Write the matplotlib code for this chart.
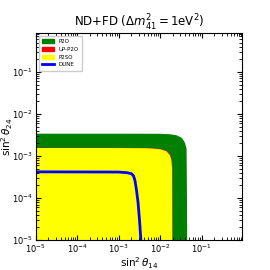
import matplotlib
matplotlib.use("Agg")
import matplotlib.pyplot as plt
from matplotlib.patches import Patch
from matplotlib.lines import Line2D

# contour boundaries (sin^2 theta14, sin^2 theta24)
p2o_x = [1e-5, 1e-3, 1e-2, 1.7e-2, 2.5e-2, 3.3e-2, 3.9e-2, 4.3e-2, 4.4e-2, 4.45e-2]
p2o_y = [3.4e-3, 3.4e-3, 3.38e-3, 3.3e-3, 3.1e-3, 2.7e-3, 2.1e-3, 1.5e-3, 1e-4, 1e-5]

up_p2o_x = [1e-5, 1e-3, 5e-3, 1e-2, 1.45e-2, 1.75e-2, 1.9e-2, 1.95e-2, 1.96e-2]
up_p2o_y = [1.57e-3, 1.57e-3, 1.55e-3, 1.48e-3, 1.33e-3, 1.08e-3, 8e-4, 5e-4, 1e-5]

p2so_x = [1e-5, 1e-3, 5e-3, 1e-2, 1.4e-2, 1.7e-2, 1.85e-2, 1.93e-2, 1.95e-2]
p2so_y = [1.55e-3, 1.55e-3, 1.53e-3, 1.45e-3, 1.3e-3, 1.05e-3, 8e-4, 5e-4, 1e-5]

dune_x = [1e-5, 1e-3, 1.6e-3, 2.0e-3, 2.25e-3, 2.45e-3, 2.65e-3, 2.9e-3, 3.15e-3, 3.4e-3]
dune_y = [4.2e-4, 4.15e-4, 4.0e-4, 3.8e-4, 3.4e-4, 2.6e-4, 1.6e-4, 8e-5, 3e-5, 1e-5]

labels = ["P2O", "UP-P2O", "P2SO", "DUNE"]
colors = ["green", "red", "yellow", "blue"]

fig = plt.figure(figsize=(2.7, 2.7), dpi=100)
ax = fig.add_axes([0.133, 0.111, 0.763, 0.767])

for xs, ys, c in [(p2o_x, p2o_y, colors[0]), (up_p2o_x, up_p2o_y, colors[1]), (p2so_x, p2so_y, colors[2])]:
    ax.fill([1e-5] + xs, [1e-5] + ys, color=c, lw=0)
ax.plot(dune_x, dune_y, color=colors[3], lw=2)

ax.set_xscale("log")
ax.set_yscale("log")
ax.set_xlim(1e-5, 0.93)
ax.set_ylim(1e-5, 0.85)
ax.tick_params(which="both", direction="in", top=True, right=True, labelsize=6, pad=2)
ax.tick_params(which="major", length=3.5)
ax.tick_params(which="minor", length=2)
ax.set_xlabel(r"$\sin^2\theta_{14}$", fontsize=7.5, labelpad=0)
ax.set_ylabel(r"$\sin^2\theta_{24}$", fontsize=7.5, labelpad=-2)
ax.set_title(r"ND+FD ($\Delta m^2_{41}=1$eV$^2$)", fontsize=8.5, pad=3)

handles = [Patch(color=c) for c in colors[:3]] + [Line2D([], [], color=colors[3], lw=2)]
ax.legend(handles, labels, loc="upper left", fontsize=4, handlelength=2.2, borderpad=0.6,
          labelspacing=0.5, framealpha=1)

fig.savefig("out.png", dpi=100)
